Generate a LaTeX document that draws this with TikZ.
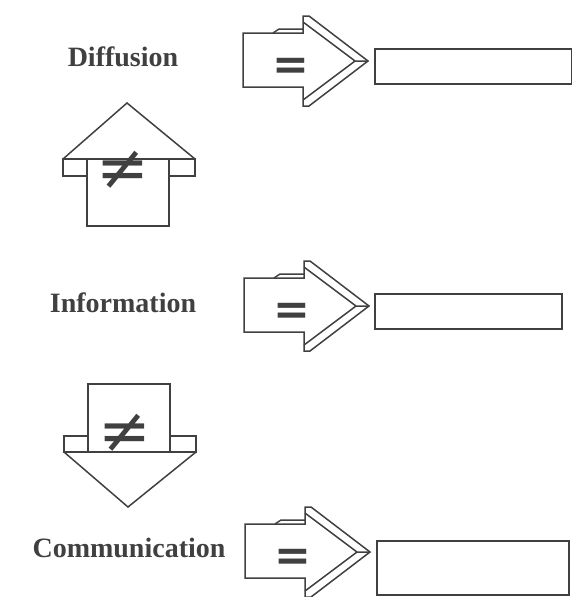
\documentclass[tikz,border=0pt]{standalone}
\usepackage{fontspec}
\setmainfont{Liberation Serif}
\newfontfamily\symfont{DejaVu Sans}
\usepackage{tikz}
\usetikzlibrary{positioning}

\begin{document}
\begin{tikzpicture}[x=1pt, y=-1pt,
        outline/.style={draw=black!75, line width=1.5pt, line join=miter},
        level/.style={font=\fontsize{28}{28}\selectfont\bfseries, text=black!75, inner sep=0pt, anchor=base},
        result/.style={rectangle, outline, inner sep=0pt, anchor=north west},
        eqsign/.style={font=\symfont\bfseries\fontsize{44}{44}\selectfont, text=black!75, inner sep=0pt},
        neqsign/.style={font=\symfont\fontsize{63}{63}\selectfont, text=black!75, inner sep=0pt}]
    \useasboundingbox (0,0) rectangle (572,597);

    % the three levels
    \node (diffusion) [level] at (123,66) {Diffusion};
    \node (information) [level] at (123,312) {Information};
    \node (communication) [level] at (129,557) {Communication};

    % empty boxes on the right
    \node (diffbox) [result, minimum width=197pt, minimum height=35pt] at (374,48) {};
    \node (infobox) [result, minimum width=187pt, minimum height=35pt] at (374,293) {};
    \node (commbox) [result, minimum width=192pt, minimum height=54pt] at (376,540) {};

    % right arrows with the bevelled head
    \foreach \tx/\ty/\n in {368/61/diff, 369/306/info, 370/552/comm} {
        \coordinate (\n tip) at (\tx,\ty);
        \begin{scope}[shift={(\n tip)}]
            \draw[outline] (-125,-28) -- (-65,-28) -- (-65,-45) -- (-59,-45) -- (0,0)
                -- (-59,45) -- (-65,45) -- (-65,26) -- (-125,26) -- cycle;
            \draw[outline] (-65,-39) -- (-13,0) -- (-65,39) (-13,0) -- (0,0);
            \draw[outline] (-95,-28) -- (-89,-32) -- (-65,-32);
            \node (\n eq) [eqsign] at (-77,8) {=};
        \end{scope}
    }

    % up arrow between Information and Diffusion
    \draw[outline] (87,159) rectangle (169,226);
    \draw[outline] (63,159) rectangle (87,176);
    \draw[outline] (169,159) rectangle (195,176);
    \draw[outline] (63,159) -- (127,103) -- (195,159);
    \node (upneq) [neqsign] at (123,170) {≠};

    % down arrow between Information and Communication
    \draw[outline] (88,384) rectangle (170,452);
    \draw[outline] (64,436) rectangle (88,452);
    \draw[outline] (170,436) rectangle (196,452);
    \draw[outline] (64,452) -- (128,507) -- (196,452);
    \node (downneq) [neqsign] at (125,433) {≠};
\end{tikzpicture}
\end{document}
